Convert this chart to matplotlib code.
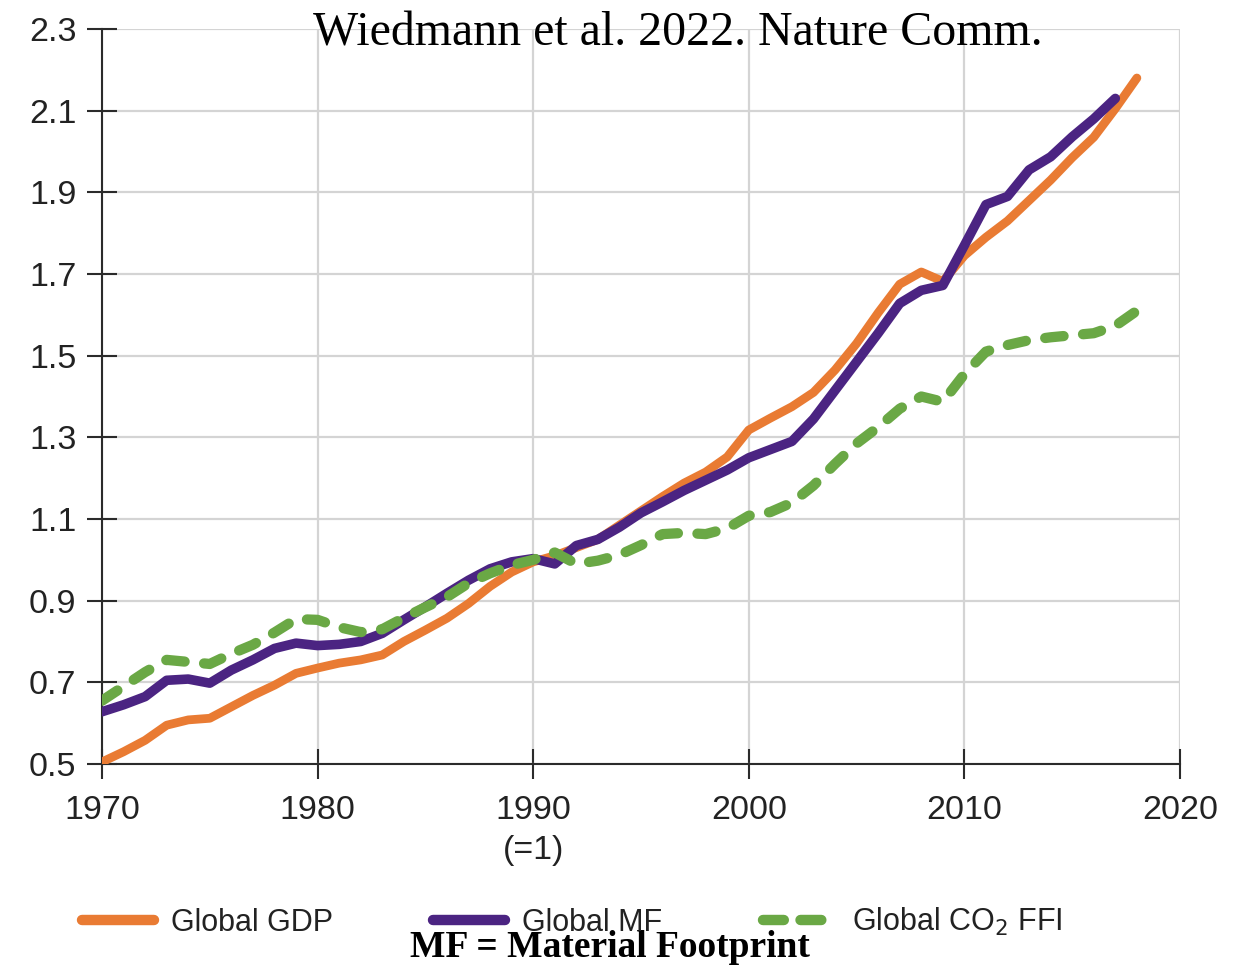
import matplotlib
matplotlib.use("Agg")
import matplotlib.pyplot as plt
import matplotlib.transforms as mtransforms
from matplotlib.lines import Line2D

years = list(range(1970, 2019))

gdp = [0.505, 0.530, 0.558, 0.595, 0.608, 0.612, 0.640, 0.668, 0.693, 0.722,
       0.735, 0.747, 0.755, 0.767, 0.800, 0.828, 0.857, 0.893, 0.935, 0.970,
       0.995, 1.010, 1.030, 1.050, 1.085, 1.120, 1.155, 1.188, 1.215, 1.252,
       1.318, 1.347, 1.375, 1.410, 1.465, 1.530, 1.605, 1.675, 1.705, 1.682,
       1.745, 1.790, 1.830, 1.880, 1.930, 1.985, 2.035, 2.105, 2.180]

mf_years = list(range(1970, 2018))
mf = [0.628, 0.645, 0.665, 0.705, 0.708, 0.698, 0.730, 0.755, 0.783, 0.796,
      0.790, 0.793, 0.800, 0.820, 0.853, 0.885, 0.918, 0.950, 0.978, 0.995,
      1.003, 0.990, 1.035, 1.050, 1.080, 1.115, 1.142, 1.170, 1.195, 1.220,
      1.250, 1.270, 1.290, 1.345, 1.415, 1.485, 1.555, 1.628, 1.660, 1.672,
      1.770, 1.870, 1.890, 1.955, 1.987, 2.036, 2.080, 2.130]

co2 = [0.655, 0.690, 0.725, 0.755, 0.750, 0.745, 0.770, 0.792, 0.822, 0.855,
       0.853, 0.835, 0.823, 0.830, 0.858, 0.884, 0.909, 0.943, 0.967, 0.987,
       1.000, 1.018, 0.990, 0.998, 1.012, 1.036, 1.063, 1.066, 1.063, 1.077,
       1.108, 1.117, 1.140, 1.182, 1.235, 1.285, 1.325, 1.370, 1.400, 1.387,
       1.455, 1.510, 1.526, 1.538, 1.545, 1.550, 1.555, 1.573, 1.610]

xticks = [1970, 1980, 1990, 2000, 2010, 2020]
yticks = [0.5, 0.7, 0.9, 1.1, 1.3, 1.5, 1.7, 1.9, 2.1, 2.3]
ytick_labels = ["0.5", "0.7", "0.9", "1.1", "1.3", "1.5", "1.7", "1.9", "2.1", "2.3"]

c_gdp = "#E97B33"
c_mf = "#4B2482"
c_co2 = "#6AA845"

plt.rcParams["font.family"] = ["Liberation Sans", "DejaVu Sans"]

W, H = 1245, 965
fig = plt.figure(figsize=(W / 100, H / 100), dpi=100)
ax = fig.add_axes([102 / W, 1 - 764 / H, (1180 - 102) / W, (764 - 29) / H])

ax.set_xlim(1970, 2020)
ax.set_ylim(0.5, 2.3)

ax.grid(True, color="#d4d4d4", linewidth=1.6, zorder=0)
ax.set_axisbelow(True)

ax.plot(years, gdp, color=c_gdp, lw=6.3, solid_capstyle="round",
        solid_joinstyle="round", zorder=3)
ax.plot(mf_years, mf, color=c_mf, lw=6.9, solid_capstyle="round",
        solid_joinstyle="round", zorder=4)
ax.plot(years, co2, color=c_co2, lw=7.4, dashes=(1.8, 1.9),
        dash_capstyle="round", dash_joinstyle="round", zorder=5)

for s in ["top", "right"]:
    ax.spines[s].set_visible(False)
for s in ["left", "bottom"]:
    ax.spines[s].set_color("#2b2b2b")
    ax.spines[s].set_linewidth(1.5)

ax.set_xticks(xticks)
ax.set_xticklabels([str(x) for x in xticks])
ax.set_yticks(yticks)
ax.set_yticklabels(ytick_labels)
ax.tick_params(axis="both", direction="inout", length=21, width=1.5,
               color="#2b2b2b", labelsize=24.5, labelcolor="#222222")
ax.tick_params(axis="y", pad=8)
ax.tick_params(axis="x", pad=12)

trans = mtransforms.blended_transform_factory(ax.transData, fig.transFigure)
ax.text(1990, 1 - 851 / H, "(=1)", transform=trans, ha="center", va="center",
        fontsize=24.5, color="#222222")

handles = [
    Line2D([], [], color=c_gdp, lw=7.5, solid_capstyle="round"),
    Line2D([], [], color=c_mf, lw=7.5, solid_capstyle="round"),
    Line2D([], [], color=c_co2, lw=7.5, dashes=(2.0, 1.6), dash_capstyle="round"),
]
labels = ["Global GDP", "Global MF", "Global CO$_2$ FFI"]
fig.legend(handles, labels, loc="center", bbox_to_anchor=(572 / W, 1 - 922 / H),
           ncol=3, frameon=False, fontsize=22, handlelength=2.35,
           handletextpad=0.55, columnspacing=3.3, labelcolor="#222222")

fig.text(678 / W, 1 - 45 / H, "Wiedmann et al. 2022. Nature Comm.",
         family=["Liberation Serif", "DejaVu Serif"], fontsize=34.5,
         ha="center", va="baseline", color="black")
fig.text(610 / W, 1 - 957 / H, "MF = Material Footprint",
         family=["Liberation Serif", "DejaVu Serif"], fontsize=27,
         fontweight="bold", ha="center", va="baseline", color="black")

fig.savefig("out.png", dpi=100)
